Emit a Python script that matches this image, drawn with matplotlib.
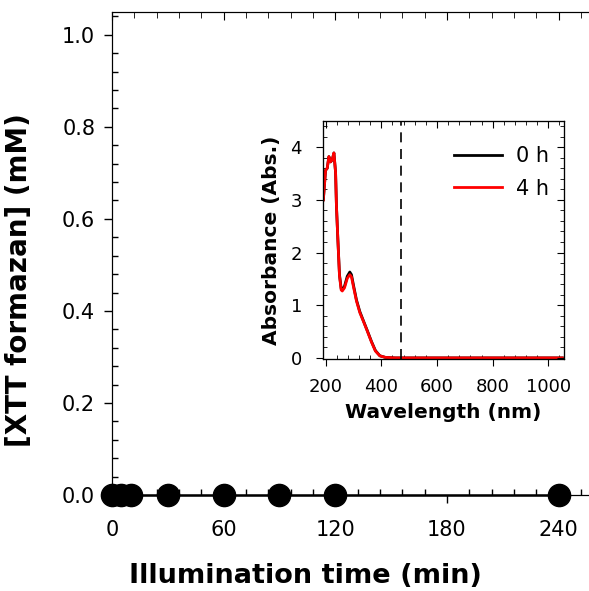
import numpy as np
import matplotlib.pyplot as plt
from matplotlib.ticker import MultipleLocator

plt.rcParams['font.family'] = ['DejaVu Sans']

# Datos principales: XTT formazan vs tiempo de iluminacion
t_min = [0, 5, 10, 30, 60, 90, 120, 240]
xtt_mM = [0, 0, 0, 0, 0, 0, 0, 0]

# Espectros UV-vis del inset
wl_nm = [192, 200, 206, 212, 218, 224, 230, 236, 239, 244, 250, 256, 260, 268,
         278, 287, 293, 301, 311, 323, 337, 349, 365, 379, 395, 415, 450, 500,
         600, 700, 800, 900, 1000, 1050]
abs_0h = [3.00, 3.56, 3.60, 3.82, 3.72, 3.76, 3.89, 3.52, 2.90, 2.27, 1.58,
          1.32, 1.29, 1.36, 1.55, 1.63, 1.58, 1.36, 1.10, 0.88, 0.69, 0.53,
          0.31, 0.14, 0.04, 0.01, 0.0, 0.0, 0.0, 0.0, 0.0, 0.0, 0.0, 0.0]
abs_4h = [3.00, 3.56, 3.60, 3.82, 3.72, 3.76, 3.89, 3.52, 2.90, 2.27, 1.56,
          1.29, 1.27, 1.33, 1.51, 1.58, 1.54, 1.33, 1.08, 0.86, 0.68, 0.52,
          0.30, 0.13, 0.04, 0.01, 0.0, 0.0, 0.0, 0.0, 0.0, 0.0, 0.0, 0.0]
wl_cut = 470

fig = plt.figure(figsize=(5.89, 5.91), dpi=100)
ax = fig.add_axes([0.190, 0.1624, 0.812, 0.8176])

ax.plot(t_min, xtt_mM, 'k-', lw=1.8, marker='o', ms=16, clip_on=False, zorder=5)
ax.set_xlim(0, 257)
ax.set_ylim(0, 1.05)
ax.spines['right'].set_visible(False)
ax.xaxis.set_major_locator(MultipleLocator(60))
ax.xaxis.set_minor_locator(MultipleLocator(12))
ax.yaxis.set_major_locator(MultipleLocator(0.2))
ax.yaxis.set_minor_locator(MultipleLocator(0.04))
ax.yaxis.set_major_formatter(plt.FormatStrFormatter('%.1f'))
ax.tick_params(which='major', direction='out', length=6, width=1, labelsize=15)
ax.tick_params(axis='x', which='major', pad=12)
ax.tick_params(axis='y', which='major', pad=6)
ax.tick_params(which='minor', direction='in', length=4, width=1)
ax.tick_params(axis='x', which='both', top=False)
ax.tick_params(axis='y', which='both', right=False)
ax.set_xlabel('Illumination time (min)', fontsize=19.5, fontweight='bold')
ax.xaxis.set_label_coords(0.405, -0.140)
ax.set_ylabel('[XTT formazan] (mM)', fontsize=20, fontweight='bold')
ax.yaxis.set_label_coords(-0.165, 0.445)

# ticks superiores hacia adentro
axt = ax.twiny()
axt.set_xlim(ax.get_xlim())
axt.spines['right'].set_visible(False)
axt.xaxis.set_major_locator(MultipleLocator(60))
axt.xaxis.set_minor_locator(MultipleLocator(12))
axt.tick_params(which='major', direction='in', length=6, labeltop=False)
axt.tick_params(which='minor', direction='in', length=4)

# inset
ins = fig.add_axes([0.548, 0.3926, 0.409, 0.403])
ins.plot(wl_nm, abs_0h, color='black', lw=2, label='0 h')
ins.plot(wl_nm, abs_4h, color='red', lw=2, label='4 h')
ins.axvline(wl_cut, color='black', ls=(0, (6, 4)), lw=1.2)
ins.set_xlim(190, 1055)
ins.set_ylim(-0.02, 4.5)
ins.xaxis.set_major_locator(MultipleLocator(200))
ins.xaxis.set_minor_locator(MultipleLocator(40))
ins.yaxis.set_major_locator(MultipleLocator(1))
ins.yaxis.set_minor_locator(MultipleLocator(0.2))
ins.tick_params(which='major', direction='out', length=5, labelsize=13)
ins.tick_params(axis='x', which='major', pad=9)
ins.tick_params(axis='y', which='major', pad=10)
ins.tick_params(which='minor', direction='in', length=3)
ins.tick_params(which='both', top=False, right=False)
ins.set_xlabel('Wavelength (nm)', fontsize=14.5, fontweight='bold', labelpad=5)
ins.set_ylabel('Absorbance (Abs.)', fontsize=14.5, fontweight='bold', labelpad=7)
ins_t = ins.twiny()
ins_t.set_xlim(ins.get_xlim())
ins_t.xaxis.set_major_locator(MultipleLocator(200))
ins_t.xaxis.set_minor_locator(MultipleLocator(40))
ins_t.tick_params(which='major', direction='in', length=5, labeltop=False)
ins_t.tick_params(which='minor', direction='in', length=3)
ins_r = ins.twinx()
ins_r.set_ylim(ins.get_ylim())
ins_r.yaxis.set_major_locator(MultipleLocator(1))
ins_r.yaxis.set_minor_locator(MultipleLocator(0.2))
ins_r.tick_params(which='major', direction='in', length=5, labelright=False)
ins_r.tick_params(which='minor', direction='in', length=3)
ins.legend(loc='upper right', bbox_to_anchor=(1.0, 0.955), frameon=False,
           fontsize=15, handlelength=2.3, handletextpad=0.7, borderaxespad=0.3,
           labelspacing=0.6)

fig.savefig('out.png', dpi=100)
